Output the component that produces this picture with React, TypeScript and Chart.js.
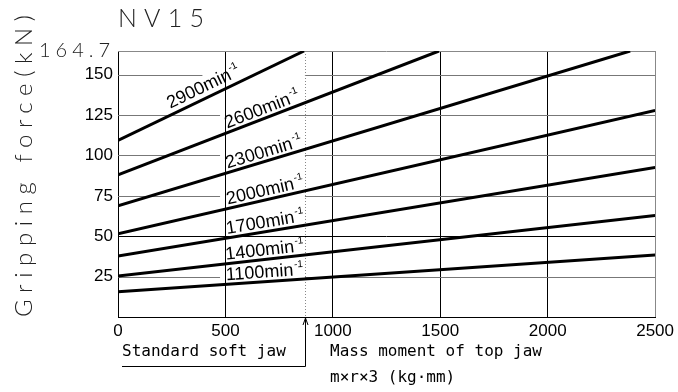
import React, { useEffect, useRef } from "react";
import { Chart, registerables } from "chart.js";

Chart.register(...registerables);

// ---- data ----
const speeds = ["2900", "2600", "2300", "2000", "1700", "1400", "1100"];
const startForce = [109.3, 88.0, 68.8, 51.5, 37.8, 25.4, 15.7];
const endMoment = [866, 1494, 2384, 2500, 2500, 2500, 2500];
const endForce = [164.7, 164.7, 164.7, 127.9, 92.6, 62.8, 38.4];
const labelMoment = [255, 515, 515, 515, 510, 505, 505];
const xTicks = [0, 500, 1000, 1500, 2000, 2500];
const yTicks = [25, 50, 75, 100, 125, 150];
const yMax = 164.7;
const standardJaw = 870;
const title = "NV15";
const yTitle = "Gripping force(kN)";
const jawText = "Standard soft jaw";
const xTitle1 = "Mass moment of top jaw";
const xTitle2 = "m×r×3 (kg·mm)";

// gaps in horizontal grid lines (x range, data units)
const gridGaps: Record<number, [number, number]> = {
  150: [393, 870],
  125: [475, 794],
  100: [475, 870],
  75: [475, 870],
  25: [475, 870],
};

// draw text stretched with letter spacing to a target width
function spaced(ctx: any, text: string, x: number, y: number, width: number, align: "left" | "right" | "center") {
  ctx.letterSpacing = "0px";
  const w = ctx.measureText(text).width;
  const n = text.length;
  const sp = n > 1 ? (width - w) / (n - 1) : 0;
  ctx.letterSpacing = sp + "px";
  ctx.textAlign = "left";
  let sx = x;
  if (align === "right") sx = x - width;
  else if (align === "center") sx = x - width / 2;
  ctx.fillText(text, sx, y);
  ctx.letterSpacing = "0px";
}

const annot = {
  id: "annot",
  beforeDatasetsDraw(chart: any) {
    const { ctx, chartArea: a, scales } = chart;
    const x = scales.x, y = scales.y;
    ctx.save();
    yTicks.forEach((v) => {
      const py = Math.round(y.getPixelForValue(v)) + 0.5;
      ctx.strokeStyle = v === 50 ? "#000" : "#777";
      ctx.lineWidth = 1;
      ctx.beginPath();
      const g = gridGaps[v];
      if (g) {
        ctx.moveTo(a.left, py);
        ctx.lineTo(x.getPixelForValue(g[0]), py);
        ctx.moveTo(x.getPixelForValue(g[1]), py);
        ctx.lineTo(a.right, py);
      } else {
        ctx.moveTo(a.left, py);
        ctx.lineTo(a.right, py);
      }
      ctx.stroke();
    });
    ctx.strokeStyle = "#888";
    ctx.beginPath();
    ctx.moveTo(a.left, a.top + 0.5);
    ctx.lineTo(a.right, a.top + 0.5);
    ctx.stroke();
    const jx = Math.round(x.getPixelForValue(standardJaw)) + 0.5;
    ctx.strokeStyle = "#888";
    ctx.setLineDash([1, 2]);
    ctx.beginPath();
    ctx.moveTo(jx, a.top);
    ctx.lineTo(jx, a.bottom);
    ctx.stroke();
    ctx.restore();
  },
  afterDatasetsDraw(chart: any) {
    const { ctx, scales } = chart;
    const x = scales.x, y = scales.y;
    ctx.save();
    ctx.fillStyle = "#000";
    ctx.textBaseline = "alphabetic";
    ctx.textAlign = "left";
    speeds.forEach((s, i) => {
      const x1 = x.getPixelForValue(0), y1 = y.getPixelForValue(startForce[i]);
      const x2 = x.getPixelForValue(endMoment[i]), y2 = y.getPixelForValue(endForce[i]);
      const ang = Math.atan2(y2 - y1, x2 - x1);
      const m = labelMoment[i];
      const f = startForce[i] + (endForce[i] - startForce[i]) * (m / endMoment[i]);
      const px = x.getPixelForValue(m), py = y.getPixelForValue(f);
      ctx.save();
      ctx.translate(px, py);
      ctx.rotate(ang);
      ctx.font = '18px "Liberation Sans", Arial, sans-serif';
      const off = i === 0 ? -6 : -4;
      ctx.fillText(s + "min", 0, off);
      const w = ctx.measureText(s + "min").width;
      ctx.font = '10px "Liberation Sans", Arial, sans-serif';
      ctx.fillText("-1", w + 1, off - 8);
      ctx.restore();
    });
    ctx.restore();
  },
  afterDraw(chart: any) {
    const { ctx, chartArea: a, scales } = chart;
    const x = scales.x;
    ctx.save();
    ctx.fillStyle = "#222";
    ctx.textBaseline = "alphabetic";
    ctx.font = '300 25px Lato, "DejaVu Sans", sans-serif';
    spaced(ctx, title, 118, 27, 86, "left");
    ctx.font = '300 20px Lato, "DejaVu Sans", sans-serif';
    spaced(ctx, String(yMax), 110, 57, 71, "right");
    ctx.save();
    ctx.translate(32, 166);
    ctx.rotate(-Math.PI / 2);
    ctx.font = '300 24px Lato, "DejaVu Sans", sans-serif';
    spaced(ctx, yTitle, 0, 0, 302, "center");
    ctx.restore();
    ctx.fillStyle = "#000";
    ctx.textAlign = "left";
    ctx.font = '16px "DejaVu Sans Mono", monospace';
    ctx.fillText(jawText, 122, 356);
    ctx.fillText(xTitle1, 330, 356);
    ctx.fillText(xTitle2, 330, 382);
    const jx = Math.round(x.getPixelForValue(standardJaw)) + 0.5;
    ctx.strokeStyle = "#000";
    ctx.lineWidth = 1;
    ctx.beginPath();
    ctx.moveTo(122, 366.5);
    ctx.lineTo(jx, 366.5);
    ctx.lineTo(jx, a.bottom + 1);
    ctx.stroke();
    ctx.beginPath();
    ctx.moveTo(jx - 2.5, a.bottom + 8);
    ctx.lineTo(jx, a.bottom + 1);
    ctx.lineTo(jx + 2.5, a.bottom + 8);
    ctx.stroke();
    ctx.restore();
  },
};

export default function App() {
  const ref = useRef<HTMLCanvasElement>(null);
  useEffect(() => {
    const datasets = speeds.map((s, i) => ({
      label: s,
      data: [
        { x: 0, y: startForce[i] },
        { x: endMoment[i], y: endForce[i] },
      ],
      borderColor: "#000",
      borderWidth: 3,
      pointRadius: 0,
      showLine: true,
      fill: false,
    }));
    const chart = new Chart(ref.current!, {
      type: "scatter",
      data: { datasets },
      options: {
        responsive: false,
        animation: false,
        devicePixelRatio: 1,
        layout: { padding: { left: 0, right: 20, top: 51, bottom: 0 } },
        plugins: { legend: { display: false }, tooltip: { enabled: false }, title: { display: false } },
        scales: {
          x: {
            type: "linear",
            min: 0,
            max: 2500,
            afterBuildTicks: (s: any) => {
              s.ticks = xTicks.map((v) => ({ value: v }));
            },
            afterFit: (s: any) => {
              s.height = 75;
            },
            grid: {
              color: (c: any) => (c.tick && c.tick.value === 2500 ? "#888" : "#000"),
              lineWidth: 1,
              drawTicks: false,
            },
            border: { color: "#000", width: 1 },
            ticks: {
              color: "#000",
              padding: 4,
              maxRotation: 0,
              callback: (v: any) => String(v),
              font: { family: '"Liberation Sans", Arial, sans-serif', size: 17 },
            },
          },
          y: {
            type: "linear",
            min: 0,
            max: yMax,
            afterBuildTicks: (s: any) => {
              s.ticks = yTicks.map((v) => ({ value: v }));
            },
            afterFit: (s: any) => {
              s.width = 118;
            },
            grid: { display: false, drawTicks: false },
            border: { color: "#000", width: 1 },
            ticks: {
              color: "#000",
              padding: 5,
              callback: (v: any) => String(v),
              font: { family: '"Liberation Sans", Arial, sans-serif', size: 17 },
            },
          },
        },
      },
      plugins: [annot],
    });
    return () => chart.destroy();
  }, []);
  return (
    <div style={{ position: "absolute", left: 0, top: 0, width: 678, height: 392, background: "#fff" }}>
      <canvas ref={ref} width={678} height={392} style={{ display: "block" }} />
    </div>
  );
}
